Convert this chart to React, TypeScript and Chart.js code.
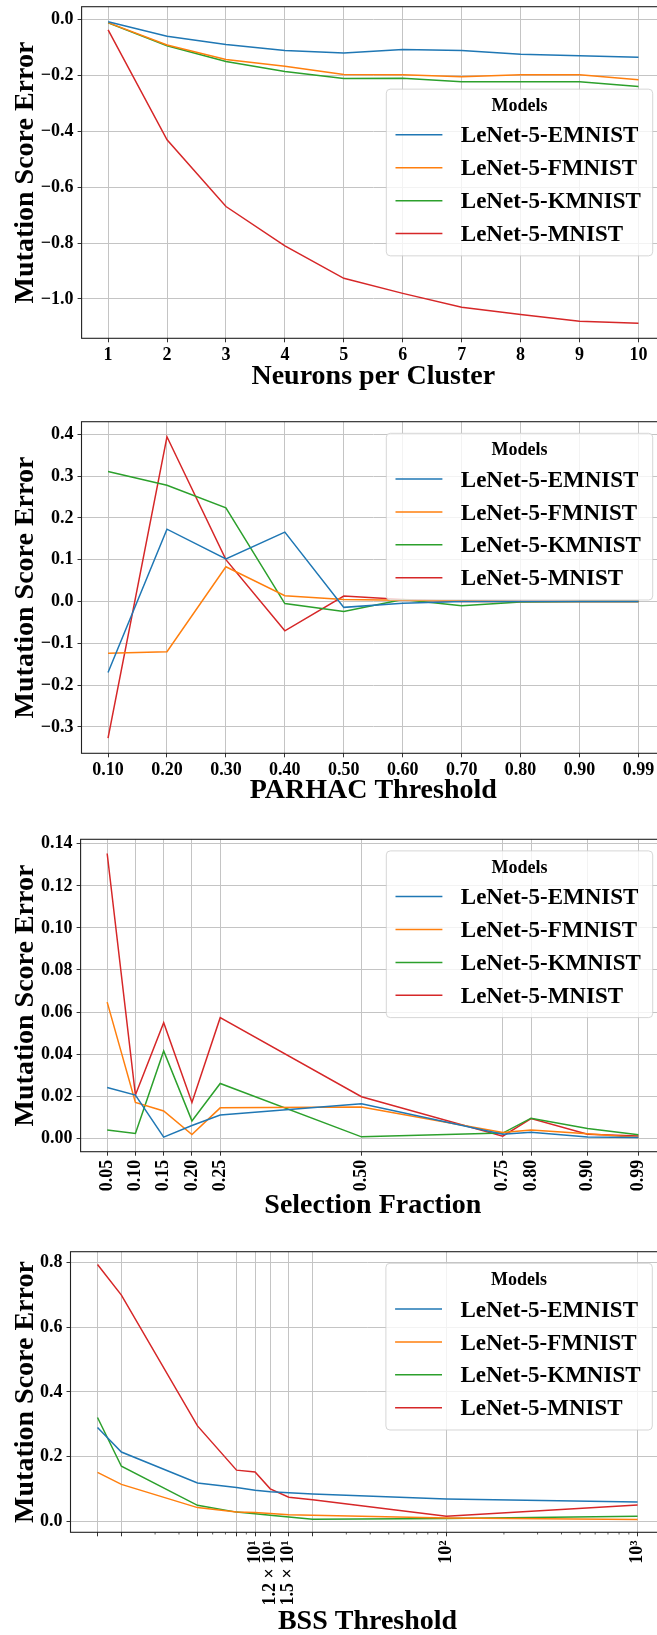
import React, { useEffect, useRef } from 'react';
import { Chart, registerables } from 'chart.js';

Chart.register(...registerables);

const FONT = "'Liberation Serif', 'Times New Roman', Times, serif";
const CANVAS_W = 680;

const MODELS = ['LeNet-5-EMNIST', 'LeNet-5-FMNIST', 'LeNet-5-KMNIST', 'LeNet-5-MNIST'];
const COLORS = ['#1f77b4', '#ff7f0e', '#2ca02c', '#d62728'];

// Neurons per cluster
const neurons = [1, 2, 3, 4, 5, 6, 7, 8, 9, 10];
const neuronsEmnist = [-0.007, -0.059, -0.088, -0.110, -0.119, -0.106, -0.110, -0.123, -0.129, -0.134];
const neuronsFmnist = [-0.010, -0.090, -0.142, -0.166, -0.196, -0.197, -0.204, -0.197, -0.197, -0.215];
const neuronsKmnist = [-0.011, -0.093, -0.149, -0.185, -0.210, -0.209, -0.222, -0.222, -0.222, -0.239];
const neuronsMnist = [-0.036, -0.430, -0.669, -0.810, -0.926, -0.980, -1.030, -1.056, -1.080, -1.087];
const neuronsYTicks = [-1.0, -0.8, -0.6, -0.4, -0.2, 0.0];

// PARHAC threshold (evenly spaced categories)
const parhacLabels = ['0.10', '0.20', '0.30', '0.40', '0.50', '0.60', '0.70', '0.80', '0.90', '0.99'];
const parhacIndex = [0, 1, 2, 3, 4, 5, 6, 7, 8, 9];
const parhacEmnist = [-0.170, 0.173, 0.102, 0.166, -0.014, -0.004, 0.000, 0.000, 0.000, 0.000];
const parhacFmnist = [-0.124, -0.120, 0.083, 0.014, 0.005, 0.003, 0.002, 0.000, 0.000, 0.000];
const parhacKmnist = [0.311, 0.278, 0.224, -0.005, -0.024, 0.005, -0.010, -0.001, 0.000, 0.000];
const parhacMnist = [-0.327, 0.394, 0.100, -0.070, 0.013, 0.005, 0.000, 0.000, 0.000, 0.000];
const parhacYTicks = [-0.3, -0.2, -0.1, 0.0, 0.1, 0.2, 0.3, 0.4];

// Selection fraction
const selection = [0.05, 0.10, 0.15, 0.20, 0.25, 0.50, 0.75, 0.80, 0.90, 0.99];
const selectionEmnist = [0.0241, 0.0205, 0.0005, 0.0060, 0.0110, 0.0164, 0.0019, 0.0028, 0.0005, 0.0003];
const selectionFmnist = [0.0647, 0.0170, 0.0129, 0.0017, 0.0144, 0.0148, 0.0027, 0.0039, 0.0021, 0.0003];
const selectionKmnist = [0.0039, 0.0022, 0.0415, 0.0082, 0.0260, 0.0006, 0.0024, 0.0095, 0.0046, 0.0016];
const selectionMnist = [0.1354, 0.0205, 0.0549, 0.0170, 0.0573, 0.0197, 0.0009, 0.0093, 0.0019, 0.0010];
const selectionYTicks = [0.0, 0.02, 0.04, 0.06, 0.08, 0.10, 0.12, 0.14];

// BSS threshold (log axis)
const bss = [1.5, 2, 5, 8, 10, 12, 15, 20, 100, 1000];
const bssEmnist = [0.290, 0.214, 0.118, 0.104, 0.096, 0.091, 0.088, 0.084, 0.069, 0.059];
const bssFmnist = [0.151, 0.114, 0.042, 0.028, 0.027, 0.024, 0.020, 0.018, 0.010, 0.005];
const bssKmnist = [0.321, 0.170, 0.049, 0.028, 0.023, 0.018, 0.013, 0.006, 0.008, 0.015];
const bssMnist = [0.795, 0.700, 0.295, 0.158, 0.152, 0.100, 0.074, 0.066, 0.015, 0.050];
const bssTickLabels = ['', '', '', '', '10\u00b9', '1.2 \u00d7 10\u00b9', '1.5 \u00d7 10\u00b9', '', '10\u00b2', '10\u00b3'];
const bssYTicks = [0.0, 0.2, 0.4, 0.6, 0.8];

type Area = { left: number; top: number; right: number; bottom: number };

type PanelSpec = {
  height: number;
  area: Area;
  xType: 'linear' | 'logarithmic';
  xs: number[];
  series: number[][];
  xTicks: number[];
  xLabels: string[];
  xRotate: boolean;
  yTicks: number[];
  yDecimals: number;
  xTitle: string;
  xTitleBaseline: number;
  legendMode: 'center' | 'upper';
  minorLogTicks?: boolean;
};

function fmtY(v: number, d: number) {
  const s = Math.abs(v).toFixed(d);
  return v < -1e-12 ? '\u2212' + s : s;
}

// axis limits with a 5% margin on each side of the data
function paddedRange(values: number[], log = false): [number, number] {
  let lo = Math.min(...values);
  let hi = Math.max(...values);
  if (log) {
    lo = Math.log10(lo);
    hi = Math.log10(hi);
  }
  const m = (hi - lo) * 0.05;
  lo -= m;
  hi += m;
  return log ? [Math.pow(10, lo), Math.pow(10, hi)] : [lo, hi];
}

function drawLegend(ctx: CanvasRenderingContext2D, a: any, mode: 'center' | 'upper') {
  const w = 266.4;
  const h = 166.7;
  const right = a.right - 12.3;
  const left = right - w;
  const top = mode === 'center' ? (a.top + a.bottom) / 2 - h / 2 : a.top + 11.6;
  const r = 4;
  ctx.save();
  ctx.beginPath();
  ctx.moveTo(left + r, top);
  ctx.lineTo(left + w - r, top);
  ctx.quadraticCurveTo(left + w, top, left + w, top + r);
  ctx.lineTo(left + w, top + h - r);
  ctx.quadraticCurveTo(left + w, top + h, left + w - r, top + h);
  ctx.lineTo(left + r, top + h);
  ctx.quadraticCurveTo(left, top + h, left, top + h - r);
  ctx.lineTo(left, top + r);
  ctx.quadraticCurveTo(left, top, left + r, top);
  ctx.closePath();
  ctx.fillStyle = 'rgba(255,255,255,0.8)';
  ctx.fill();
  ctx.strokeStyle = 'rgba(204,204,204,0.8)';
  ctx.lineWidth = 1;
  ctx.stroke();

  ctx.fillStyle = '#000';
  ctx.textBaseline = 'alphabetic';
  ctx.font = `bold 18px ${FONT}`;
  ctx.textAlign = 'center';
  ctx.fillText('Models', left + w / 2, top + 15.7 + 0.331 * 18);

  ctx.font = `bold 23px ${FONT}`;
  ctx.textAlign = 'left';
  MODELS.forEach((name, i) => {
    const y = top + 45.7 + i * 32.9;
    ctx.beginPath();
    ctx.moveTo(left + 9.2, y);
    ctx.lineTo(left + 56.1, y);
    ctx.strokeStyle = COLORS[i];
    ctx.lineWidth = 1.5;
    ctx.stroke();
    ctx.fillStyle = '#000';
    ctx.fillText(name, left + 74.5, y + 0.331 * 23);
  });
  ctx.restore();
}

function buildConfig(spec: PanelSpec): any {
  const log = spec.xType === 'logarithmic';
  const [xMin, xMax] = paddedRange(spec.xs, log);
  const [yMin, yMax] = paddedRange(spec.series.flat());
  const { area, height } = spec;
  const tickFont = { family: FONT, size: 18, weight: 'bold' as const };
  const grid = { color: '#c4c4c4', lineWidth: 1, tickLength: 4, tickColor: '#333', tickWidth: 1 };

  const decorations = {
    id: 'decorations',
    afterDraw(chart: any) {
      const ctx: CanvasRenderingContext2D = chart.ctx;
      const a = chart.chartArea;
      ctx.save();

      if (spec.minorLogTicks) {
        const xs = chart.scales.x;
        ctx.strokeStyle = '#333';
        ctx.lineWidth = 0.8;
        for (let e = 0; e <= 3; e++) {
          for (let m = 2; m <= 9; m++) {
            const v = m * Math.pow(10, e);
            if (v < xMin || v > xMax || spec.xTicks.includes(v)) continue;
            const px = xs.getPixelForValue(v);
            ctx.beginPath();
            ctx.moveTo(px, a.bottom);
            ctx.lineTo(px, a.bottom + 2.2);
            ctx.stroke();
          }
        }
      }

      // axes frame
      ctx.strokeStyle = '#222';
      ctx.lineWidth = 1.1;
      ctx.strokeRect(a.left, a.top, a.right - a.left, a.bottom - a.top);

      ctx.fillStyle = '#000';
      ctx.font = `bold 28px ${FONT}`;
      ctx.textBaseline = 'alphabetic';
      ctx.textAlign = 'center';
      ctx.fillText(spec.xTitle, (a.left + a.right) / 2, spec.xTitleBaseline);

      ctx.save();
      ctx.translate(32.5, (a.top + a.bottom) / 2);
      ctx.rotate(-Math.PI / 2);
      ctx.fillText('Mutation Score Error', 0, 0);
      ctx.restore();

      drawLegend(ctx, a, spec.legendMode);
      ctx.restore();
    },
  };

  return {
    type: 'line',
    data: {
      datasets: spec.series.map((ys, i) => ({
        label: MODELS[i],
        data: spec.xs.map((x, j) => ({ x, y: ys[j] })),
        borderColor: COLORS[i],
        backgroundColor: COLORS[i],
        borderWidth: 1.5,
        pointRadius: 0,
        pointHoverRadius: 0,
        tension: 0,
        fill: false,
      })),
    },
    options: {
      animation: false,
      responsive: false,
      devicePixelRatio: 1,
      events: [],
      layout: {
        autoPadding: false,
        padding: { left: 0, top: area.top, right: CANVAS_W - area.right, bottom: 0 },
      },
      plugins: {
        legend: { display: false },
        tooltip: { enabled: false },
        title: { display: false },
      },
      scales: {
        x: {
          type: spec.xType,
          min: xMin,
          max: xMax,
          grid,
          border: { display: false },
          ticks: {
            font: tickFont,
            color: '#000',
            padding: spec.xRotate ? 4 : 2,
            autoSkip: false,
            minRotation: spec.xRotate ? 90 : 0,
            maxRotation: spec.xRotate ? 90 : 0,
            callback: (_v: any, i: number) => spec.xLabels[i] ?? '',
          },
          afterBuildTicks: (s: any) => {
            s.ticks = spec.xTicks.map((v) => ({ value: v }));
          },
          afterFit: (s: any) => {
            s.height = height - area.bottom;
            s.paddingLeft = 0;
            s.paddingRight = 0;
            s.paddingTop = 0;
            s.paddingBottom = 0;
          },
        },
        y: {
          type: 'linear',
          min: yMin,
          max: yMax,
          grid,
          border: { display: false },
          ticks: {
            font: tickFont,
            color: '#000',
            padding: 4,
            autoSkip: false,
            callback: (v: any) => fmtY(Number(v), spec.yDecimals),
          },
          afterBuildTicks: (s: any) => {
            s.ticks = spec.yTicks.map((v) => ({ value: v }));
          },
          afterFit: (s: any) => {
            s.width = area.left;
            s.paddingLeft = 0;
            s.paddingRight = 0;
            s.paddingTop = 0;
            s.paddingBottom = 0;
          },
        },
      },
    },
    plugins: [decorations],
  };
}

const PANELS: { top: number; spec: PanelSpec }[] = [
  {
    top: 0,
    spec: {
      height: 400,
      area: { left: 81.6, top: 6.7, right: 665, bottom: 338.3 },
      xType: 'linear',
      xs: neurons,
      series: [neuronsEmnist, neuronsFmnist, neuronsKmnist, neuronsMnist],
      xTicks: neurons,
      xLabels: neurons.map(String),
      xRotate: false,
      yTicks: neuronsYTicks,
      yDecimals: 1,
      xTitle: 'Neurons per Cluster',
      xTitleBaseline: 383.8,
      legendMode: 'center',
    },
  },
  {
    top: 400,
    spec: {
      height: 400,
      area: { left: 81.5, top: 21.7, right: 665, bottom: 353.3 },
      xType: 'linear',
      xs: parhacIndex,
      series: [parhacEmnist, parhacFmnist, parhacKmnist, parhacMnist],
      xTicks: parhacIndex,
      xLabels: parhacLabels,
      xRotate: false,
      yTicks: parhacYTicks,
      yDecimals: 1,
      xTitle: 'PARHAC Threshold',
      xTitleBaseline: 398.3,
      legendMode: 'upper',
    },
  },
  {
    top: 800,
    spec: {
      height: 420,
      area: { left: 80.6, top: 39.3, right: 665, bottom: 351.7 },
      xType: 'linear',
      xs: selection,
      series: [selectionEmnist, selectionFmnist, selectionKmnist, selectionMnist],
      xTicks: selection,
      xLabels: selection.map((v) => v.toFixed(2)),
      xRotate: true,
      yTicks: selectionYTicks,
      yDecimals: 2,
      xTitle: 'Selection Fraction',
      xTitleBaseline: 413.3,
      legendMode: 'upper',
    },
  },
  {
    top: 1220,
    spec: {
      height: 415,
      area: { left: 70.5, top: 31.7, right: 664.6, bottom: 312.3 },
      xType: 'logarithmic',
      xs: bss,
      series: [bssEmnist, bssFmnist, bssKmnist, bssMnist],
      xTicks: bss,
      xLabels: bssTickLabels,
      xRotate: true,
      yTicks: bssYTicks,
      yDecimals: 1,
      xTitle: 'BSS Threshold',
      xTitleBaseline: 409.3,
      legendMode: 'upper',
      minorLogTicks: true,
    },
  },
];

function Panel({ top, spec }: { top: number; spec: PanelSpec }) {
  const ref = useRef<HTMLCanvasElement>(null);
  useEffect(() => {
    if (!ref.current) return;
    const chart = new Chart(ref.current, buildConfig(spec));
    return () => chart.destroy();
  }, [spec]);
  return (
    <canvas
      ref={ref}
      width={CANVAS_W}
      height={spec.height}
      style={{ position: 'absolute', left: 0, top, width: CANVAS_W, height: spec.height, display: 'block' }}
    />
  );
}

export default function App() {
  useEffect(() => {
    document.body.style.margin = '0';
  }, []);
  return (
    <div
      style={{
        position: 'absolute',
        left: 0,
        top: 0,
        width: 657,
        height: 1635,
        overflow: 'hidden',
        background: '#fff',
      }}
    >
      {PANELS.map((p, i) => (
        <Panel key={i} top={p.top} spec={p.spec} />
      ))}
    </div>
  );
}
